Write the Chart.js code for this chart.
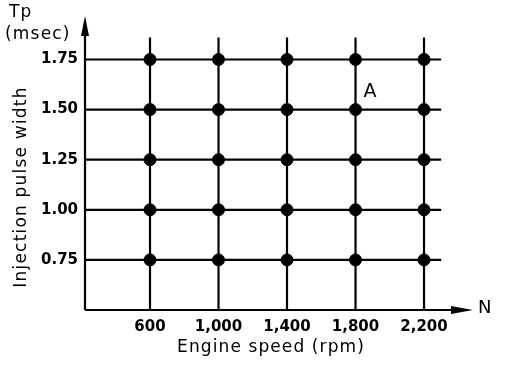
<!DOCTYPE html>
<html>
<head>
<meta charset="utf-8">
<script src="https://cdn.jsdelivr.net/npm/chart.js@4.4.1/dist/chart.umd.min.js"></script>
<style>
  html, body { margin: 0; padding: 0; background: #fff; }
  #wrap { width: 512px; height: 366px; }
</style>
</head>
<body>
<div id="wrap"><canvas id="tpChart" width="512" height="366"></canvas></div>
<script>
// engine speeds (rpm) and injection pulse widths (msec) of the map grid
const speeds = [600, 1000, 1400, 1800, 2200];
const speedLabels = ['600', '1,000', '1,400', '1,800', '2,200'];
const pulseWidths = [0.75, 1.00, 1.25, 1.50, 1.75];
const widthLabels = ['0.75', '1.00', '1.25', '1.50', '1.75'];

// how far the grid lines run
const gridSpeedRange = [220, 2300];
const gridWidthRange = [0.5, 1.86];

// point marked "A"
const pointA = { x: 1800, y: 1.5 };

const ink = '#000';
const textFont = '"DejaVu Sans", Arial, sans-serif';

// build the line datasets for the grid
const datasets = [];
pulseWidths.forEach(w => {
    datasets.push({
        type: 'line',
        data: gridSpeedRange.map(s => ({ x: s, y: w })),
        borderColor: ink, borderWidth: 2.2, pointRadius: 0
    });
});
speeds.forEach(s => {
    datasets.push({
        type: 'line',
        data: gridWidthRange.map(w => ({ x: s, y: w })),
        borderColor: ink, borderWidth: 2.2, pointRadius: 0
    });
});
// the dots at each crossing
const dots = [];
speeds.forEach(s => pulseWidths.forEach(w => dots.push({ x: s, y: w })));
datasets.push({
    type: 'scatter',
    data: dots,
    backgroundColor: ink, borderColor: ink,
    pointRadius: 6, pointHoverRadius: 6
});

// axes with arrows, plus the loose labels
const axesPlugin = {
    id: 'axesPlugin',
    afterDraw(chart) {
        const ctx = chart.ctx;
        const a = chart.chartArea;
        const xs = chart.scales.x, ys = chart.scales.y;
        ctx.save();
        ctx.strokeStyle = ink;
        ctx.fillStyle = ink;
        ctx.lineWidth = 2.2;
        // y axis
        ctx.beginPath();
        ctx.moveTo(a.left, a.bottom);
        ctx.lineTo(a.left, a.top + 10);
        ctx.stroke();
        ctx.beginPath();
        ctx.moveTo(a.left, a.top);
        ctx.lineTo(a.left - 4, a.top + 20);
        ctx.lineTo(a.left + 4, a.top + 20);
        ctx.closePath();
        ctx.fill();
        // x axis
        ctx.beginPath();
        ctx.moveTo(a.left, a.bottom);
        ctx.lineTo(a.right - 10, a.bottom);
        ctx.stroke();
        ctx.beginPath();
        ctx.moveTo(a.right, a.bottom);
        ctx.lineTo(a.right - 22, a.bottom - 4);
        ctx.lineTo(a.right - 22, a.bottom + 4);
        ctx.closePath();
        ctx.fill();

        ctx.textBaseline = 'middle';
        ctx.letterSpacing = '1.2px';
        ctx.font = '18px ' + textFont;
        ctx.textAlign = 'left';
        ctx.fillText('N', a.right + 5, a.bottom - 2);
        ctx.font = '17px ' + textFont;
        ctx.fillText('Tp', 9, 13);
        ctx.fillText('(msec)', 5, 35);
        ctx.font = '19px ' + textFont;
        ctx.textAlign = 'center';
        ctx.fillText('A', xs.getPixelForValue(pointA.x) + 15, ys.getPixelForValue(pointA.y) - 18);

        ctx.font = '17px ' + textFont;
        ctx.letterSpacing = '1.1px';
        ctx.fillText('Engine speed (rpm)', 271, 348);

        ctx.letterSpacing = '1.2px';
        ctx.translate(22, 187);
        ctx.rotate(-Math.PI / 2);
        ctx.fillText('Injection pulse width', 0, 0);
        ctx.restore();
    }
};

const tickFont = { family: textFont, size: 15, weight: 'bold' };

new Chart(document.getElementById('tpChart'), {
    data: { datasets: datasets },
    options: {
        responsive: false,
        animation: false,
        events: [],
        layout: { padding: { left: 0, right: 39, top: 13, bottom: 0 } },
        plugins: { legend: { display: false }, tooltip: { enabled: false } },
        scales: {
            x: {
                type: 'linear',
                min: 220.4, max: 2486,
                afterBuildTicks: scale => { scale.ticks = speeds.map(v => ({ value: v })); },
                afterFit: scale => { scale.height = 56; },
                ticks: {
                    color: ink, font: tickFont, padding: 8,
                    autoSkip: false, maxRotation: 0,
                    callback: (v) => speedLabels[speeds.indexOf(v)]
                },
                grid: { display: false, drawTicks: false },
                border: { display: false }
            },
            y: {
                type: 'linear',
                min: 0.5, max: 1.967,
                afterBuildTicks: scale => { scale.ticks = pulseWidths.map(v => ({ value: v })); },
                afterFit: scale => { scale.width = 85; },
                ticks: {
                    color: ink, font: tickFont, padding: 7,
                    callback: (v) => widthLabels[pulseWidths.indexOf(v)]
                },
                grid: { display: false, drawTicks: false },
                border: { display: false }
            }
        }
    },
    plugins: [axesPlugin]
});
</script>
</body>
</html>
